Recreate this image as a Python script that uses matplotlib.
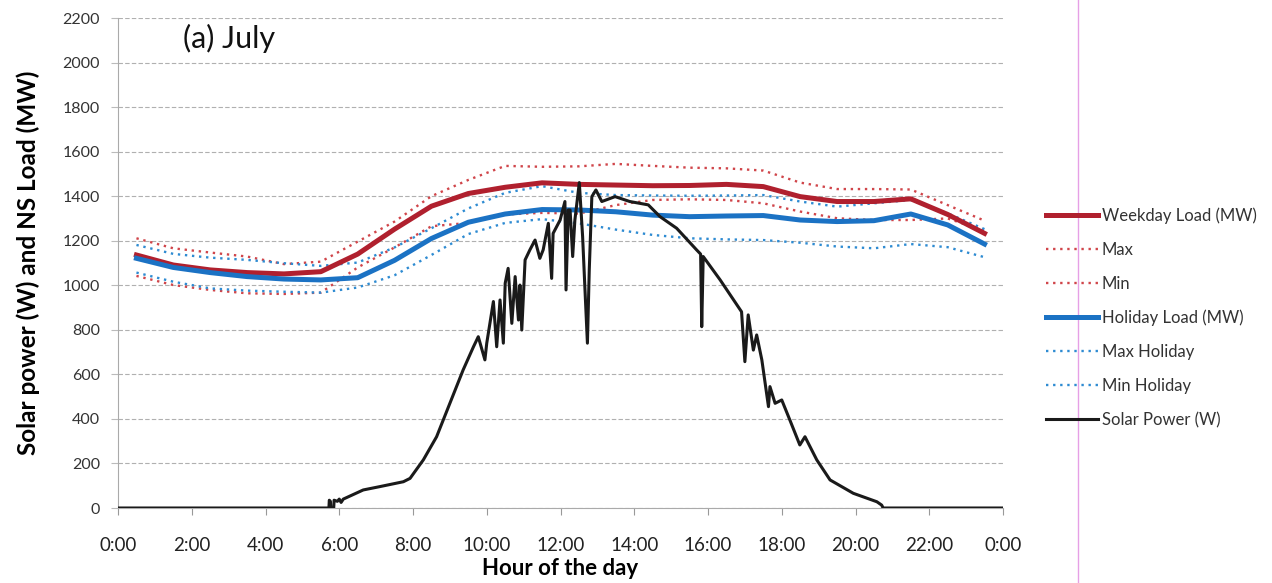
import matplotlib
matplotlib.use("Agg")
import matplotlib.pyplot as plt
from matplotlib.lines import Line2D
import numpy as np

plt.rcParams['font.family'] = ['Lato', 'DejaVu Sans']

# ---------------- data ----------------
load_hours = [h + 0.5 for h in range(24)]

weekday_load = [1136, 1091, 1069, 1057, 1051, 1061, 1140, 1252, 1355, 1412, 1440, 1460,
                1453, 1450, 1447, 1448, 1453, 1443, 1398, 1376, 1376, 1388, 1318, 1233]
weekday_max = [1211, 1166, 1147, 1129, 1095, 1106, 1196, 1286, 1400, 1473, 1536, 1532,
               1534, 1545, 1536, 1528, 1525, 1515, 1461, 1432, 1432, 1430, 1360, 1290]
weekday_min = [1042, 1001, 979, 964, 961, 967, 1080, 1170, 1265, 1280, 1318, 1325,
               1322, 1360, 1383, 1386, 1383, 1368, 1331, 1301, 1293, 1293, 1300, 1245]
holiday_load = [1121, 1080, 1057, 1039, 1028, 1024, 1034, 1112, 1210, 1283, 1320, 1340,
                1338, 1330, 1315, 1308, 1311, 1313, 1293, 1286, 1290, 1320, 1271, 1185]
holiday_max = [1181, 1141, 1124, 1114, 1099, 1087, 1102, 1170, 1256, 1345, 1415, 1445,
               1415, 1405, 1403, 1402, 1403, 1405, 1376, 1353, 1368, 1383, 1323, 1252]
holiday_min = [1057, 1016, 986, 976, 971, 967, 990, 1045, 1136, 1230, 1280, 1297,
               1278, 1250, 1226, 1211, 1206, 1203, 1191, 1174, 1166, 1185, 1171, 1126]

solar_hours = [0, 5.72, 5.73, 5.76, 5.77, 5.85, 5.86, 5.95, 6.0, 6.05, 6.11, 6.65, 7.1,
               7.74, 7.92, 8.28, 8.64, 9.0, 9.36, 9.64, 9.77, 9.95, 10.0, 10.18, 10.27,
               10.36, 10.45, 10.5, 10.58, 10.68, 10.77, 10.86, 10.9, 10.95, 11.04, 11.17,
               11.31, 11.44, 11.53, 11.67, 11.76, 11.8, 11.99, 12.12, 12.15, 12.21, 12.26,
               12.33, 12.39, 12.51, 12.6, 12.66, 12.73, 12.78, 12.85, 12.96, 13.12, 13.48,
               13.88, 14.38, 14.7, 15.15, 15.69, 15.8, 15.83, 15.87, 16.33, 16.91, 17.0,
               17.09, 17.23, 17.32, 17.46, 17.64, 17.68, 17.82, 18.0, 18.22, 18.49, 18.63,
               18.95, 19.31, 19.94, 20.58, 20.71, 20.75, 24.0]
solar_power = [0, 0, 35, 30, 0, 0, 35, 30, 40, 25, 40, 81, 96,
               118, 133, 216, 320, 470, 620, 724, 769, 665, 740, 927, 724,
               934, 740, 1009, 1076, 829, 1039, 844, 1001, 799, 1114, 1159,
               1203, 1121, 1159, 1278, 1031, 1233, 1293, 1376, 979, 1338, 1338,
               1129, 1293, 1461, 1218, 994, 740, 1069, 1398, 1428, 1376, 1398,
               1376, 1361, 1308, 1256, 1159, 1140, 814, 1129, 1024, 881, 657,
               867, 709, 777, 665, 455, 545, 470, 485, 395, 283, 320,
               216, 126, 66, 28, 13, 0, 0]

x_ticks = list(range(0, 25, 2))
x_tick_labels = ["0:00", "2:00", "4:00", "6:00", "8:00", "10:00", "12:00", "14:00",
                 "16:00", "18:00", "20:00", "22:00", "0:00"]
y_ticks = list(range(0, 2201, 200))

# ---------------- figure ----------------
fig = plt.figure(figsize=(12.72, 5.83), dpi=100)
ax = fig.add_axes([118 / 1272, 1 - 508 / 583, (1003 - 118) / 1272, (508 - 18) / 583])

red_dark = '#B0202E'
red_dot = '#D0454A'
blue = '#1B72C4'
blue_dot = '#2E8BD2'

ax.plot(load_hours, weekday_load, color=red_dark, lw=3.6, label='Weekday Load (MW)', zorder=4)
ax.plot(load_hours, weekday_max, color=red_dot, lw=1.7, ls=(0, (1, 2)), label='Max', zorder=3)
ax.plot(load_hours, weekday_min, color=red_dot, lw=1.7, ls=(0, (1, 2)), label='Min', zorder=3)
ax.plot(load_hours, holiday_load, color=blue, lw=3.6, label='Holiday Load (MW)', zorder=4)
ax.plot(load_hours, holiday_max, color=blue_dot, lw=1.7, ls=(0, (1, 2)), label='Max Holiday', zorder=3)
ax.plot(load_hours, holiday_min, color=blue_dot, lw=1.7, ls=(0, (1, 2)), label='Min Holiday', zorder=3)
ax.plot(solar_hours, solar_power, color='#1a1a1a', lw=2.2, label='Solar Power (W)', zorder=5)

ax.set_xlim(0, 24)
ax.set_ylim(0, 2200)
ax.set_xticks(x_ticks)
ax.set_xticklabels(x_tick_labels, fontsize=13.5, color='#222222')
ax.set_yticks(y_ticks)
ax.set_yticklabels([str(v) for v in y_ticks], fontsize=11.5, color='#333333')
ax.tick_params(axis='x', direction='out', length=5, color='#999999', pad=16)
ax.tick_params(axis='y', direction='out', length=5, color='#bbbbbb', pad=8)
ax.grid(axis='y', color='#b0b0b0', lw=0.8, ls=(0, (4, 2)))
ax.set_axisbelow(True)
for s in ['top', 'right']:
    ax.spines[s].set_visible(False)
ax.spines['left'].set_color('#aaaaaa')
ax.spines['bottom'].set_color('#aaaaaa')

ax.set_xlabel('Hour of the day', fontsize=16, fontweight='bold', labelpad=3)
ax.set_ylabel('Solar power (W) and NS Load (MW)', fontsize=17.5, fontweight='bold', labelpad=16)
ax.text(0.073, 0.959, '(a) July', transform=ax.transAxes, fontsize=22, va='center', ha='left',
        color='#111111')

leg = fig.legend(loc='upper left', bbox_to_anchor=(1046 / 1272, 1 - 207 / 583), frameon=False,
                 fontsize=12, handlelength=3.1, handletextpad=0.25, labelspacing=1.08,
                 borderpad=0, borderaxespad=0)
for t in leg.get_texts():
    t.set_color('#333333')

# scan artifact: thin pink vertical line
fig.add_artist(Line2D([1078 / 1272, 1078 / 1272], [0, 1], color='#E6A0E6', lw=1.0))

fig.savefig('out.png', dpi=100)
